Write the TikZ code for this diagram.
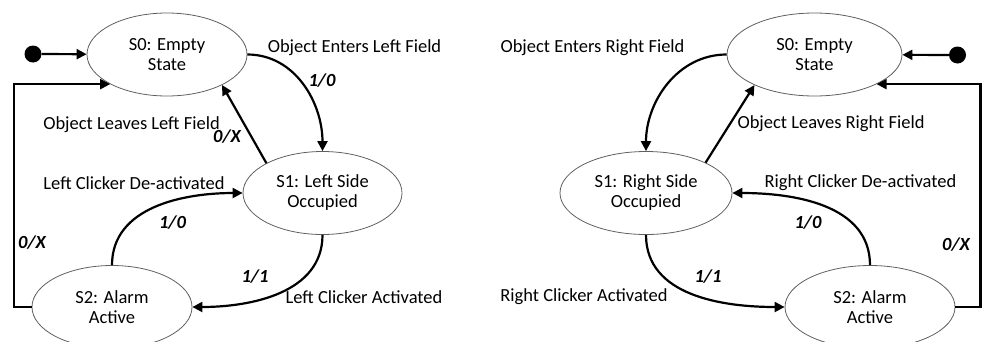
\documentclass[tikz,border=0pt]{standalone}
\usepackage{fontspec}
\setmainfont{Carlito}
\usepackage{tikz}
\usetikzlibrary{arrows.meta,shapes.geometric}
\definecolor{stateline}{RGB}{95,95,95}
\newcommand{\evtfont}{\fontsize{18.5}{20}\selectfont}

\begin{document}
\begin{tikzpicture}[x=1pt,y=1pt,
  state/.style={ellipse,draw=stateline,line width=0.8pt,inner sep=-12pt,
    minimum height=83pt,align=center,font=\evtfont},
  initdot/.style={circle,fill=black,minimum size=17pt,inner sep=0pt},
  trans/.style={line width=2.2pt,-{Triangle[length=10pt,width=10pt]}},
  evt/.style={font=\evtfont,inner sep=0pt},
  io/.style={font=\evtfont\bfseries\itshape,inner sep=0pt}]
  \useasboundingbox (0,0) rectangle (982,-341);
  % left detector
  \node[state,minimum width=160pt] (ls0) at (167,-54.5) {S0: Empty\\State};
  \node[state,minimum width=159pt] (ls1) at (322.5,-193) {S1: Left Side\\Occupied};
  \node[state,minimum width=160pt] (ls2) at (112,-307) {S2: Alarm\\Active};
  \node[initdot] (lstart) at (33,-54) {};
  \draw[trans] (lstart) -- (ls0);
  \draw[trans] (ls0.east) to[out=0,in=90] (ls1.north);
  \draw[trans] (ls1.152) -- (ls0.331);
  \draw[trans] (ls2.north) to[out=90,in=180] (ls1.west);
  \draw[trans] (ls1.south) to[out=-90,in=0] (ls2.east);
  \draw[trans] (ls2.west) -- ++(-18,0) |- (ls0.south west);
  \node[evt] (lenter) at (354.5,-47.5) {Object Enters Left Field};
  \node[io] (lenterio) at (322,-81) {1/0};
  \node[evt] (lleave) at (131.5,-125) {Object Leaves Left Field};
  \node[io] (lleaveio) at (227,-137) {0/X};
  \node[evt] (ldeact) at (134,-183) {Left Clicker De-activated};
  \node[io] (ldeactio) at (172.5,-223) {1/0};
  \node[io] (lresetio) at (32,-243) {0/X};
  \node[io] (lactio) at (255,-277) {1/1};
  \node[evt] (lact) at (364,-297) {Left Clicker Activated};
  % right detector
  \node[state,minimum width=175pt] (rs0) at (814.5,-54.5) {S0: Empty\\State};
  \node[state,minimum width=172pt] (rs1) at (646,-193) {S1: Right Side\\Occupied};
  \node[state,minimum width=170pt] (rs2) at (870,-307) {S2: Alarm\\Active};
  \node[initdot] (rstart) at (957.5,-55) {};
  \draw[trans] (rstart) -- (rs0);
  \draw[trans] (rs0.west) to[out=180,in=90] (rs1.north);
  \draw[trans] (rs1.27) -- (rs0.207);
  \draw[trans] (rs2.north) to[out=90,in=0] (rs1.east);
  \draw[trans] (rs1.south) to[out=-90,in=180] (rs2.west);
  \draw[trans] (rs2.east) -- ++(25,0) |- (rs0.south east);
  \node[evt] (renter) at (592.5,-47.5) {Object Enters Right Field};
  \node[evt] (rleave) at (831,-124) {Object Leaves Right Field};
  \node[evt] (rdeact) at (860.5,-183) {Right Clicker De-activated};
  \node[io] (rdeactio) at (808,-223) {1/0};
  \node[io] (rresetio) at (956,-245) {0/X};
  \node[io] (ractio) at (708,-277) {1/1};
  \node[evt] (ract) at (584,-297) {Right Clicker Activated};
\end{tikzpicture}
\end{document}
